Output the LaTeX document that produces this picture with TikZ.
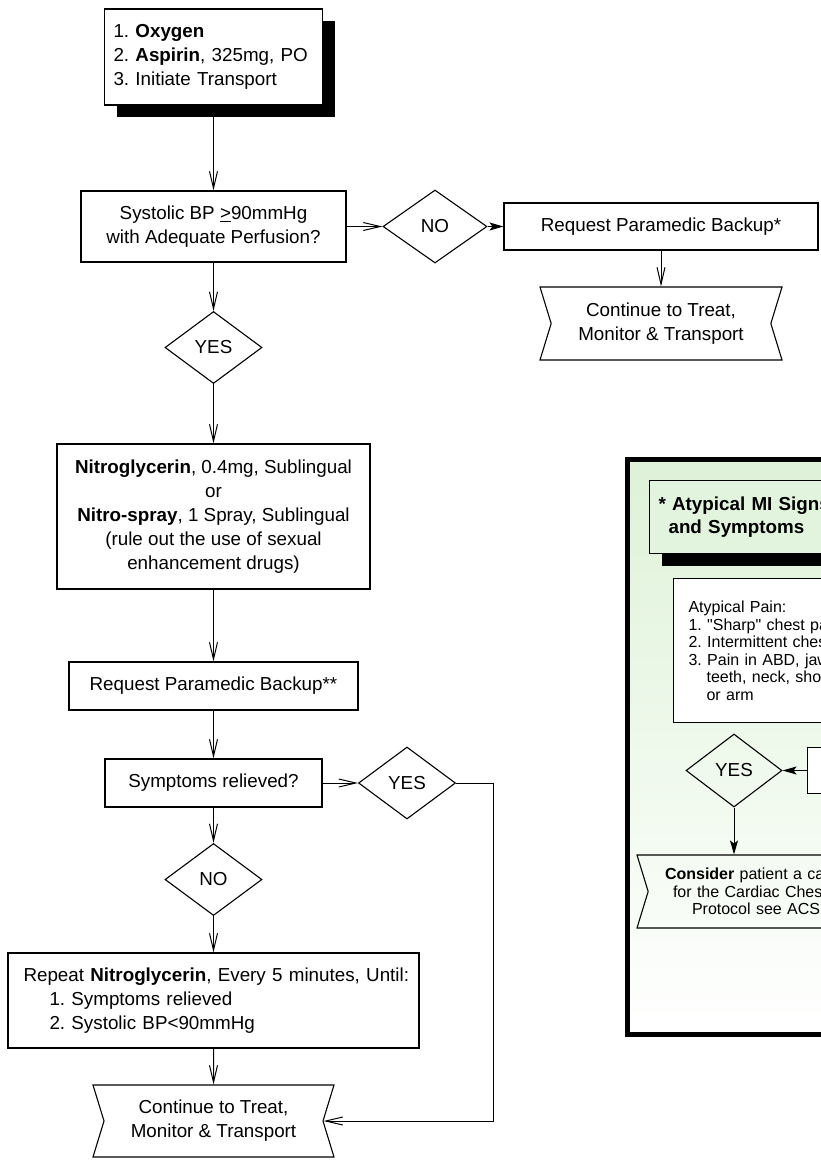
\documentclass[tikz,border=0pt]{standalone}
\usepackage{fontspec}
\setmainfont{Liberation Sans}
\usetikzlibrary{arrows.meta,shapes.geometric,shapes.symbols,shadows}
\definecolor{miGreen}{RGB}{222,242,216}
\definecolor{titleGreen}{RGB}{226,244,222}
\frenchspacing

\begin{document}
\begin{tikzpicture}[x=1pt,y=-1pt,
  font=\fontsize{18.8}{24}\selectfont,
  box/.style={draw,line width=1.1pt,inner sep=0pt,align=center},
  decision/.style={draw,diamond,line width=1.1pt,inner sep=0pt,minimum width=97pt,minimum height=72pt},
  ribbon/.style={draw,signal,signal from=west and east,signal to=nowhere,signal pointer angle=146,line width=1.1pt,inner sep=0pt,align=center},
  flow/.style={-{Straight Barb[length=17pt,width=8pt]},line width=1pt},
  flowfill/.style={-{Stealth[length=14pt,width=8pt,inset=3pt]},line width=1pt},
  heavy/.style={drop shadow={shadow xshift=12pt,shadow yshift=-12pt,fill=black,opacity=1}},
  small/.style={font=\fontsize{16}{17.5}\selectfont}]
  \useasboundingbox (0,0) rectangle (821,1162);
  \clip (0,0) rectangle (821,1162);

  % main column
  \node[box,heavy,fill=white,minimum width=218pt,minimum height=96pt,text width=200pt,align=left] (start) at (213.5,57)
    {1. \textbf{Oxygen}\\2. \textbf{Aspirin}, 325mg, PO\\3. Initiate Transport};
  \node[box,minimum width=265pt,minimum height=71pt] (bp) at (213.5,226.5)
    {Systolic BP \underline{>}90mmHg\\with Adequate Perfusion?};
  \node[decision,minimum width=104pt,minimum height=73pt] (no1) at (435,226.5) {NO};
  \node[box,minimum width=314pt,minimum height=47pt] (req1) at (661,226.5) {Request Paramedic Backup*};
  \node[ribbon,minimum width=242pt,minimum height=73pt] (cont1) at (661,323.5) {Continue to Treat,\\Monitor \& Transport};
  \node[decision] (yes1) at (213.5,347.5) {YES};
  \node[box,minimum width=313pt,minimum height=145pt] (nitro) at (213.5,516.5)
    {\textbf{Nitroglycerin}, 0.4mg, Sublingual\\or\\\textbf{Nitro-spray}, 1 Spray, Sublingual\\(rule out the use of sexual\\enhancement drugs)};
  \node[box,minimum width=289pt,minimum height=48pt] (req2) at (213.5,686) {Request Paramedic Backup**};
  \node[box,minimum width=217pt,minimum height=48pt] (relief) at (213.5,783) {Symptoms relieved?};
  \node[decision] (yes2) at (407,783) {YES};
  \node[decision] (no2) at (213.5,879.5) {NO};
  \node[box,minimum width=411pt,minimum height=95pt,text width=380pt,align=left] (repeat) at (213.5,1000.5)
    {\mbox{Repeat \textbf{Nitroglycerin}, Every 5 minutes, Until:}\\\hspace*{26pt}1. Symptoms relieved\\\hspace*{26pt}2. Systolic BP<90mmHg};
  \node[ribbon,minimum width=241pt,minimum height=72pt] (cont2) at (213.5,1121) {Continue to Treat,\\Monitor \& Transport};

  \draw[flow] (start) -- (bp);
  \draw[flow] (bp) -- (no1);
  \draw[flowfill] (no1) -- (req1);
  \draw[flow] (req1) -- (cont1);
  \draw[flow] (bp) -- (yes1);
  \draw[flow] (yes1) -- (nitro);
  \draw[flow] (nitro) -- (req2);
  \draw[flow] (req2) -- (relief);
  \draw[flow] (relief) -- (yes2);
  \draw[flow] (relief) -- (no2);
  \draw[flow] (no2) -- (repeat);
  \draw[flow] (repeat) -- (cont2);
  \draw[flow] (yes2.east) -- ++(37,0) |- (cont2.east);

  % atypical MI panel
  \draw[line width=5pt,top color=miGreen,bottom color=white] (627.5,459.5) rectangle (900,1034.5);
  \node[box,heavy,fill=titleGreen,anchor=north west,minimum height=73pt,text width=200pt,inner xsep=9pt,align=left,
    font=\fontsize{18.8}{23}\selectfont\bfseries] (mititle) at (649,480)
    {* Atypical MI Signs\\\hspace*{10pt}and Symptoms};
  \node[box,fill=white,anchor=north west,minimum height=144pt,text width=200pt,inner xsep=15pt,align=left,small] (atyp) at (673,578)
    {Atypical Pain:\\1. \textquotedbl Sharp\textquotedbl{} chest pain\\2. Intermittent chest pain\\3. Pain in ABD, jaw,\\\hspace*{18pt}teeth, neck, shoulder,\\\hspace*{18pt}or arm};
  \node[box,fill=white,anchor=west,minimum width=60pt,minimum height=46pt] (nextq) at (807,770.5) {};
  \node[decision,minimum width=96pt,minimum height=73pt] (yes3) at (734,770.5) {YES};
  \node[ribbon,small,text width=224pt,align=left,minimum width=280pt,minimum height=73pt] (cons) at (777,891.5)
    {\textbf{Consider} patient a candidate\\\hspace*{8pt}for the Cardiac Chest Pain\\\hspace*{27pt}Protocol see ACS};
  \draw[flowfill] (nextq) -- (yes3);
  \draw[flowfill] (yes3) -- (yes3 |- cons.north);
\end{tikzpicture}
\end{document}
